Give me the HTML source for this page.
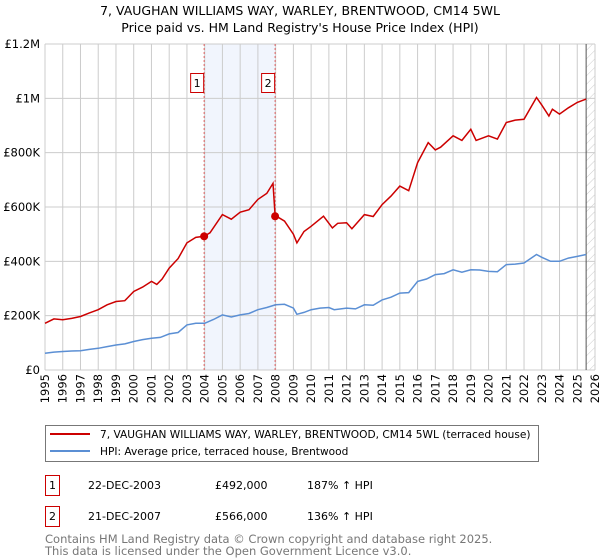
<!DOCTYPE html>
<html><head><meta charset="utf-8">
<style>
body{margin:0;background:#fff;font-family:"DejaVu Sans","Liberation Sans",sans-serif;}
svg{display:block}
</style></head>
<body>
<svg width="600" height="560" viewBox="0 0 600 560" xmlns="http://www.w3.org/2000/svg" font-family="DejaVu Sans, Liberation Sans, sans-serif">
<defs>
<pattern id="hatch" width="6" height="6" patternUnits="userSpaceOnUse" patternTransform="rotate(45)">
<line x1="0" y1="0" x2="0" y2="6" stroke="#ccc" stroke-width="1"/>
</pattern>
</defs>
<text x="300" y="15" text-anchor="middle" font-size="12.5" fill="#000">7, VAUGHAN WILLIAMS WAY, WARLEY, BRENTWOOD, CM14 5WL</text>
<text x="300" y="32" text-anchor="middle" font-size="12.5" fill="#000">Price paid vs. HM Land Registry's House Price Index (HPI)</text>
<g id="plot"></g>
<g>
<rect x="45.5" y="425.5" width="493" height="36" fill="#fff" stroke="#777"/>
<line x1="50" y1="434" x2="90" y2="434" stroke="#cc0000" stroke-width="2"/>
<text x="100" y="438" font-size="10.6">7, VAUGHAN WILLIAMS WAY, WARLEY, BRENTWOOD, CM14 5WL (terraced house)</text>
<line x1="50" y1="451" x2="90" y2="451" stroke="#5b8fd4" stroke-width="2"/>
<text x="100" y="455" font-size="10.6">HPI: Average price, terraced house, Brentwood</text>
</g>
<g font-size="11">
<rect x="45.5" y="475.5" width="14" height="20" fill="none" stroke="#cc0000"/>
<text x="52.5" y="489" text-anchor="middle">1</text>
<text x="88" y="489">22-DEC-2003</text>
<text x="215" y="489">£492,000</text>
<text x="307" y="489">187% ↑ HPI</text>
<rect x="45.5" y="506.5" width="14" height="20" fill="none" stroke="#cc0000"/>
<text x="52.5" y="520" text-anchor="middle">2</text>
<text x="88" y="520">21-DEC-2007</text>
<text x="215" y="520">£566,000</text>
<text x="307" y="520">136% ↑ HPI</text>
</g>
<text x="45" y="543" font-size="11.5" fill="#777">Contains HM Land Registry data © Crown copyright and database right 2025.</text>
<text x="45" y="555" font-size="11.5" fill="#777">This data is licensed under the Open Government Licence v3.0.</text>
</svg>
<script>
const hpiYears=[1995,1995.5,1996,1996.5,1997,1997.5,1998,1998.5,1999,1999.5,2000,2000.5,2001,2001.5,2002,2002.5,2003,2003.5,2004,2004.5,2005,2005.5,2006,2006.5,2007,2007.5,2008,2008.5,2009,2009.2,2009.6,2010,2010.5,2011,2011.3,2012,2012.5,2013,2013.5,2014,2014.5,2015,2015.5,2016,2016.5,2017,2017.5,2018,2018.5,2019,2019.5,2020,2020.5,2021,2021.5,2022,2022.7,2023,2023.5,2024,2024.5,2025,2025.5];
const hpiValues=[62,66,68,70,71,76,80,86,92,96,105,112,117,120,133,138,166,172,172,186,203,195,203,208,222,230,240,242,228,205,212,222,228,230,222,228,225,240,238,258,268,283,285,326,335,351,355,369,360,369,368,363,362,388,390,394,425,415,400,400,412,418,425];
const redYears=[1995,1995.5,1996,1996.5,1997,1997.5,1998,1998.5,1999,1999.5,2000,2000.5,2001,2001.3,2001.6,2002,2002.5,2003,2003.5,2003.97,2004.3,2005,2005.5,2006,2006.5,2007,2007.5,2007.85,2007.97,2008.5,2009,2009.2,2009.6,2010,2010.7,2011.2,2011.5,2012,2012.3,2013,2013.5,2014,2014.5,2015,2015.5,2016,2016.6,2017,2017.3,2018,2018.5,2019,2019.3,2020,2020.5,2021,2021.5,2022,2022.7,2023,2023.4,2023.6,2024,2024.5,2025,2025.5];
const redValues=[172,188,185,190,197,210,222,240,252,255,289,305,326,315,335,375,410,468,488,492,505,572,555,581,590,628,650,687,569,548,500,468,510,529,566,523,540,542,520,572,565,609,640,677,660,763,837,810,820,862,845,886,845,862,850,911,920,923,1003,975,935,960,942,965,985,997];
const sales=[{x:2003.97,v:492},{x:2007.97,v:566}];
const yTicks=[0,200,400,600,800,1000,1200];
const yLabels=["£0","£200K","£400K","£600K","£800K","£1M","£1.2M"];
const xTicks=[1995,1996,1997,1998,1999,2000,2001,2002,2003,2004,2005,2006,2007,2008,2009,2010,2011,2012,2013,2014,2015,2016,2017,2018,2019,2020,2021,2022,2023,2024,2025,2026];

const NS="http://www.w3.org/2000/svg";
const L=45,R=595,T=44,B=370;
const xs=y=>L+(y-1995)/(2026-1995)*(R-L);
const ys=v=>B-v/1200*(B-T);
const g=document.getElementById('plot');
function mk(tag,attrs,parent){const e=document.createElementNS(NS,tag);for(const k in attrs)e.setAttribute(k,attrs[k]);(parent||g).appendChild(e);return e;}

const shade=mk('rect',{x:xs(sales[0].x),y:T,width:xs(sales[1].x)-xs(sales[0].x),height:B-T,fill:'#eef3fc',opacity:0.8});


const hatch=mk('rect',{x:xs(2025.5),y:T,width:R-xs(2025.5),height:B-T,fill:'url(#hatch)'});



xTicks.forEach(t=>{
  const ln=mk('line',{x1:xs(t),x2:xs(t),y1:T,y2:B,stroke:'#ccc','stroke-width':1});
  
  
  const tx=mk('text',{x:0,y:0,'font-size':11.5,'text-anchor':'end',transform:`translate(${xs(t)+4},374) rotate(-90)`});
  tx.textContent=t;
  
  
});
yTicks.forEach((t,i)=>{
  const ln=mk('line',{x1:L,x2:R,y1:ys(t),y2:ys(t),stroke:'#ccc','stroke-width':1});
  
  
  const tx=mk('text',{x:40,y:ys(t)+4,'font-size':11.5,'text-anchor':'end'});
  tx.textContent=yLabels[i];
  
  
});
const bl=mk('line',{x1:xs(2025.5),x2:xs(2025.5),y1:T,y2:B,stroke:'#555','stroke-width':1});



sales.forEach((s,i)=>{
  const ln=mk('line',{x1:xs(s.x),x2:xs(s.x),y1:T,y2:B,stroke:'#e06060','stroke-width':1,'stroke-dasharray':'2,2'});
  
  
  const bx=mk('rect',{x:xs(s.x)-13.5,y:73.5,width:13,height:19,fill:'#fff',stroke:'#cc0000'});
  
  
  const tx=mk('text',{x:xs(s.x)-7,y:87,'font-size':11,'text-anchor':'middle'});
  tx.textContent=String(i+1);
  
  
});

const hp=mk('path',{d:hpiYears.map((y,i)=>(i?'L':'M')+xs(y).toFixed(1)+','+ys(hpiValues[i]).toFixed(1)).join(''),fill:'none',stroke:'#5b8fd4','stroke-width':1.5});


const rp=mk('path',{d:redYears.map((y,i)=>(i?'L':'M')+xs(y).toFixed(1)+','+ys(redValues[i]).toFixed(1)).join(''),fill:'none',stroke:'#cc0000','stroke-width':1.5});


sales.forEach(s=>{
  const c=mk('circle',{cx:xs(s.x),cy:ys(s.v),r:4,fill:'#cc0000'});
  
  
});
</script>
</body></html>
